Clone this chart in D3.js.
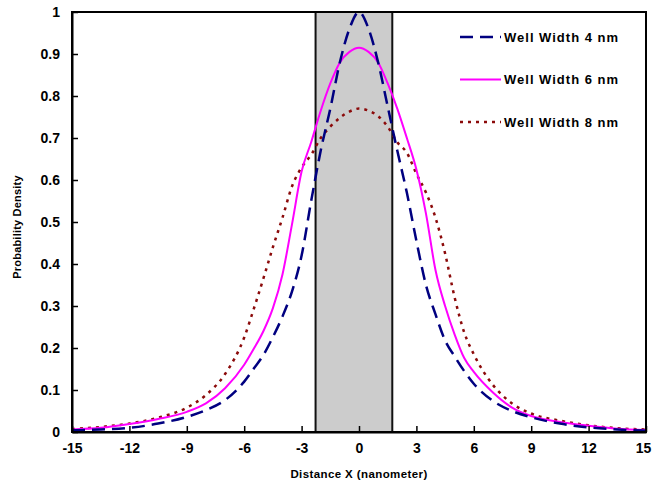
<!DOCTYPE html>
<html>
<head>
<meta charset="utf-8">
<script src="https://cdn.jsdelivr.net/npm/d3@7"></script>
<style>
  body { margin: 0; background: #fff; }
  svg text { font-family: "Liberation Sans", Arial, sans-serif; font-weight: bold; }
</style>
</head>
<body>
<div id="chart"></div>
<script>
// x positions (nm) where the curves were read
const xs = [-15, -13.5, -12, -10.5, -9, -8, -7, -6, -5.5, -5, -4.5, -4, -3.5, -3, -2.5, -2, -1.5, -1, -0.5,
  0, 0.5, 1, 1.5, 2, 2.5, 3, 3.5, 4, 4.5, 5, 5.5, 6, 7, 8, 9, 10.5, 12, 13.5, 15];

const well4 = [0.004, 0.006, 0.010, 0.020, 0.036, 0.052, 0.076, 0.120, 0.151, 0.183, 0.226, 0.275, 0.335, 0.420, 0.550, 0.670, 0.770, 0.880, 0.960,
  1.000, 0.960, 0.880, 0.775, 0.670, 0.570, 0.455, 0.350, 0.280, 0.218, 0.180, 0.145, 0.115, 0.074, 0.050, 0.035, 0.020, 0.011, 0.006, 0.003];

const well6 = [0.006, 0.010, 0.019, 0.031, 0.048, 0.068, 0.104, 0.160, 0.198, 0.240, 0.295, 0.375, 0.495, 0.620, 0.690, 0.765, 0.830, 0.880, 0.905,
  0.915, 0.905, 0.880, 0.830, 0.770, 0.700, 0.625, 0.520, 0.385, 0.300, 0.232, 0.176, 0.143, 0.094, 0.058, 0.038, 0.024, 0.015, 0.008, 0.005];

const well8 = [0.007, 0.012, 0.020, 0.034, 0.058, 0.088, 0.138, 0.225, 0.293, 0.365, 0.440, 0.510, 0.585, 0.630, 0.660, 0.700, 0.727, 0.748, 0.763,
  0.770, 0.765, 0.752, 0.727, 0.690, 0.665, 0.615, 0.570, 0.510, 0.425, 0.320, 0.237, 0.185, 0.112, 0.068, 0.044, 0.027, 0.016, 0.009, 0.006];

const seriesNames = ["Well Width 4 nm", "Well Width 6 nm", "Well Width 8 nm"];
const xTicks = [-15, -12, -9, -6, -3, 0, 3, 6, 9, 12, 15];
const yTicks = [0, 0.1, 0.2, 0.3, 0.4, 0.5, 0.6, 0.7, 0.8, 0.9, 1];
const wellBounds = [-2.27, 1.74];

const margin = { top: 12, right: 6, bottom: 55, left: 72 },
  width = 652 - margin.left - margin.right,
  height = 487 - margin.top - margin.bottom;

const svg = d3.select("#chart").append("svg")
  .attr("width", 652)
  .attr("height", 487);

const g = svg.append("g")
  .attr("transform", `translate(${margin.left},${margin.top})`);

const x = d3.scaleLinear().domain([-15, 15]).range([0, width]);
const y = d3.scaleLinear().domain([0, 1]).range([height, 0]);

// shaded well
g.append("rect")
  .attr("x", x(wellBounds[0]))
  .attr("y", 0)
  .attr("width", x(wellBounds[1]) - x(wellBounds[0]))
  .attr("height", height)
  .attr("fill", "#cccccc")
  .attr("stroke", "#111")
  .attr("stroke-width", 2);

g.append("clipPath").attr("id", "clip")
  .append("rect").attr("x", 0).attr("y", -2).attr("width", width).attr("height", height + 2);

const styles = [
  { data: well8, color: "#8b0a0a", dash: "3,5", w: 2.5 },
  { data: well6, color: "#ff00ff", dash: null, w: 2 },
  { data: well4, color: "#000080", dash: "13,7", w: 2.5 }
];

const line = d3.line()
  .x((d) => x(d[0]))
  .y((d) => y(d[1]))
  .curve(d3.curveMonotoneX);

g.append("g").attr("clip-path", "url(#clip)")
  .selectAll("path")
  .data(styles)
  .join("path")
  .attr("d", (s) => line(xs.map((v, i) => [v, s.data[i]])))
  .attr("fill", "none")
  .attr("stroke", (s) => s.color)
  .attr("stroke-width", (s) => s.w)
  .attr("stroke-dasharray", (s) => s.dash);

// frame top / right
g.append("rect")
  .attr("width", width)
  .attr("height", height)
  .attr("fill", "none")
  .attr("stroke", "#000")
  .attr("stroke-width", 2);

// axes, ticks pointing inward, plain hyphen for negatives
const xAxis = g.append("g")
  .attr("transform", `translate(0,${height})`)
  .call(d3.axisBottom(x).tickValues(xTicks).tickSizeInner(-6).tickSizeOuter(0).tickPadding(11)
    .tickFormat((d) => String(d)));
const yAxis = g.append("g")
  .call(d3.axisLeft(y).tickValues(yTicks).tickSizeInner(-6).tickSizeOuter(0).tickPadding(12)
    .tickFormat((d) => String(d)));

[xAxis, yAxis].forEach((a) => {
  a.select(".domain").attr("stroke", "#000").attr("stroke-width", 2);
  a.selectAll(".tick line").attr("stroke", "#000").attr("stroke-width", 1.5);
  a.selectAll("text").attr("fill", "#000").style("font-size", "14px")
    .style("font-family", "'Liberation Sans', Arial, sans-serif").style("font-weight", "bold");
});
// last x label sits on the right edge
xAxis.selectAll(".tick text").filter((d) => d === 15).attr("dx", -3);

// axis titles
svg.append("text")
  .attr("x", margin.left + x(0))
  .attr("y", 478)
  .attr("text-anchor", "middle")
  .style("font-size", "11.5px")
  .style("letter-spacing", "0.4px")
  .text("Distance X (nanometer)");

svg.append("text")
  .attr("transform", `translate(21,${margin.top + height / 2 + 5}) rotate(-90)`)
  .attr("text-anchor", "middle")
  .style("font-size", "11px")
  .style("letter-spacing", "0.2px")
  .text("Probability Density");

// legend
const legendItems = [
  { name: seriesNames[0], s: styles[2] },
  { name: seriesNames[1], s: styles[1] },
  { name: seriesNames[2], s: styles[0] }
];
const legend = svg.append("g").attr("transform", "translate(460,37)");
const li = legend.selectAll("g")
  .data(legendItems)
  .join("g")
  .attr("transform", (d, i) => `translate(0,${i * 42.5})`);
li.append("line")
  .attr("x1", 0).attr("x2", 41)
  .attr("stroke", (d) => d.s.color)
  .attr("stroke-width", (d) => d.s.w)
  .attr("stroke-dasharray", (d) => d.s.dash);
li.append("text")
  .attr("x", 44)
  .attr("dy", "0.35em")
  .style("font-size", "13px")
  .style("letter-spacing", "1px")
  .text((d) => d.name);
</script>
</body>
</html>
